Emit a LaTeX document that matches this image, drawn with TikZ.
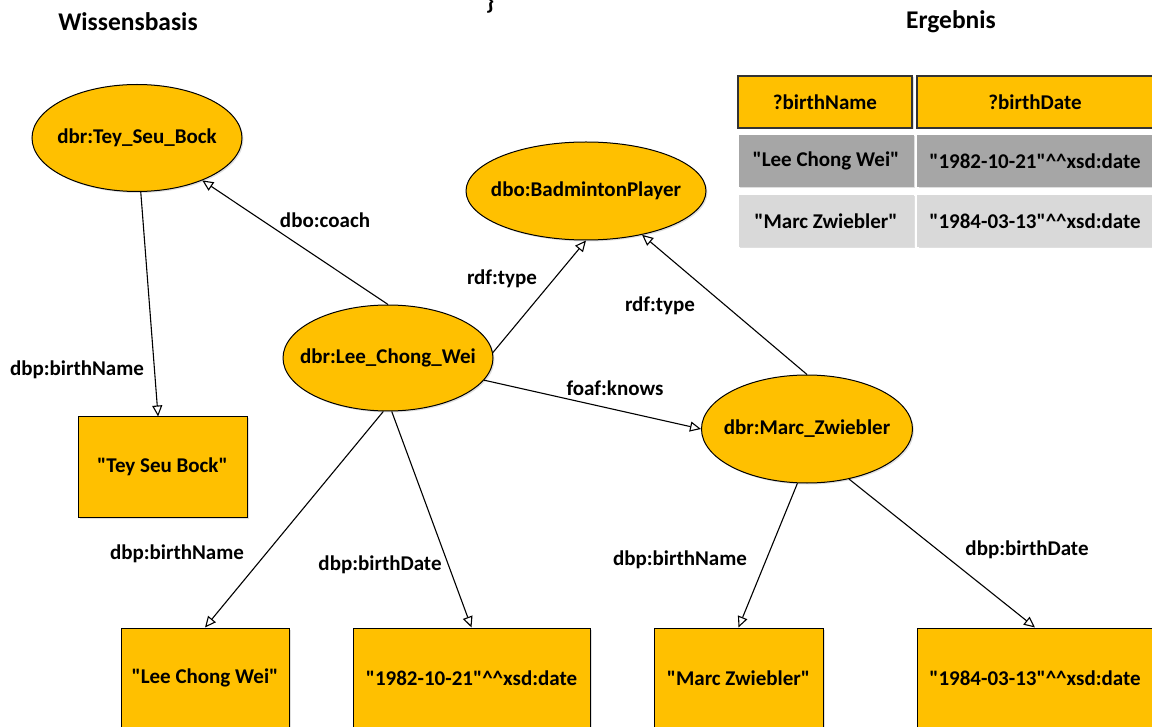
\documentclass[tikz,border=0pt]{standalone}
\usepackage{fontspec}
\newfontfamily\diagfont{Carlito}
\usetikzlibrary{arrows.meta,shadows,calc,shapes.geometric}
\definecolor{gold}{HTML}{FFC000}
\definecolor{greydark}{HTML}{A6A6A6}
\definecolor{greylight}{HTML}{D9D9D9}
% text set in a zero-width box so the shape keeps its given size
\newcommand{\tx}[1]{\makebox[0pt]{#1}}
\begin{document}
\begin{tikzpicture}[x=1pt,y=-1pt,
  every node/.style={font=\diagfont\bfseries\fontsize{21}{25}\selectfont, text=black},
  heading/.style={font=\diagfont\bfseries\fontsize{25.5}{30}\selectfont},
  res/.style={ellipse, draw=black, line width=1pt, fill=gold, inner sep=0pt,
    drop shadow={opacity=0.25, shadow xshift=1.5pt, shadow yshift=-1.5pt}},
  lit/.style={rectangle, draw=black, line width=1pt, fill=gold, inner sep=0pt,
    drop shadow={opacity=0.25, shadow xshift=1.5pt, shadow yshift=-1.5pt}},
  hdr/.style={rectangle, draw=black!80, line width=1.2pt, fill=gold, inner sep=0pt,
    drop shadow={opacity=0.25, shadow xshift=1.5pt, shadow yshift=-1.5pt}},
  rowa/.style={rectangle, fill=greydark, inner sep=0pt,
    drop shadow={opacity=0.25, shadow xshift=1.5pt, shadow yshift=-1.5pt}},
  rowb/.style={rectangle, fill=greylight, inner sep=0pt,
    drop shadow={opacity=0.25, shadow xshift=1.5pt, shadow yshift=-1.5pt}},
  rel/.style={draw=black, line width=1.1pt, -{Triangle[open, length=11pt, width=10pt]}},
  lbl/.style={inner sep=1pt}
]
\useasboundingbox (0,0) rectangle (1152,727);
\clip (0,0) rectangle (1152,727);

% headings
\node[heading] (hkb) at (128,22) {Wissensbasis};
\node[heading] (hres) at (951,22) {Ergebnis};
\node[heading, anchor=south] (brace) at (490,17) {\}};

% resources
\node[res, minimum width=210pt, minimum height=107pt] (tey) at (137,138) {\tx{dbr:Tey\_Seu\_Bock}};
\node[res, minimum width=240pt, minimum height=98pt] (bp) at (586,191) {\tx{dbo:BadmintonPlayer}};
\node[res, minimum width=210pt, minimum height=106pt] (lee) at (388,358) {\tx{dbr:Lee\_Chong\_Wei}};
\node[res, minimum width=211pt, minimum height=108pt] (marc) at (807,429) {\tx{dbr:Marc\_Zwiebler}};

% literals
\node[lit, minimum width=169pt, minimum height=100pt] (teyname) at (162.5,467) {"Tey Seu Bock"};
\node[lit, minimum width=168pt, minimum height=100pt] (leename) at (205,678) {"Lee Chong Wei"};
\node[lit, minimum width=237pt, minimum height=100pt] (leedate) at (471.5,678) {"1982-10-21"\^{}\^{}xsd:date};
\node[lit, minimum width=169pt, minimum height=100pt] (marcname) at (738.5,678) {"Marc Zwiebler"};
\node[lit, minimum width=236pt, minimum height=100pt] (marcdate) at (1035,678) {"1984-03-13"\^{}\^{}xsd:date};

% result table
\node[hdr, minimum width=174pt, minimum height=52pt] (h1) at (825,102) {?birthName};
\node[hdr, minimum width=236pt, minimum height=52pt] (h2) at (1035,102) {?birthDate};
\node[rowa, minimum width=175pt, minimum height=52pt] (r1a) at (826,161) {"Lee Chong Wei"};
\node[rowa, minimum width=236pt, minimum height=52pt] (r1b) at (1035,161) {"1982-10-21"\^{}\^{}xsd:date};
\node[rowb, minimum width=175pt, minimum height=52pt] (r2a) at (826,221) {"Marc Zwiebler"};
\node[rowb, minimum width=236pt, minimum height=52pt] (r2b) at (1035,221) {"1984-03-13"\^{}\^{}xsd:date};

% relations
\draw[rel] (lee.90) -- (tey.-33);
\draw[rel] (tey.-86) -- (teyname.95);
\draw[rel] (lee.3) -- (bp.-90);
\draw[rel] (marc.90) -- (bp.-38);
\draw[rel] (lee.-13) -- (marc.180);
\draw[rel] (lee.-95) -- (leename.north);
\draw[rel] (lee.-86) -- (leedate.north);
\draw[rel] (marc.-100) -- (marcname.north);
\draw[rel] (marc.-50) -- (marcdate.north);

% relation labels
\node[lbl] (lcoach) at (325,220) {dbo:coach};
\node[lbl] (lteyname) at (77,370) {dbp:birthName};
\node[lbl] (ltype1) at (502,279) {rdf:type};
\node[lbl] (ltype2) at (660,306) {rdf:type};
\node[lbl] (lknows) at (615,388) {foaf:knows};
\node[lbl] (lleename) at (177,554) {dbp:birthName};
\node[lbl] (lleedate) at (380,565) {dbp:birthDate};
\node[lbl] (lmarcname) at (680,560) {dbp:birthName};
\node[lbl] (lmarcdate) at (1027,550) {dbp:birthDate};
\end{tikzpicture}
\end{document}
